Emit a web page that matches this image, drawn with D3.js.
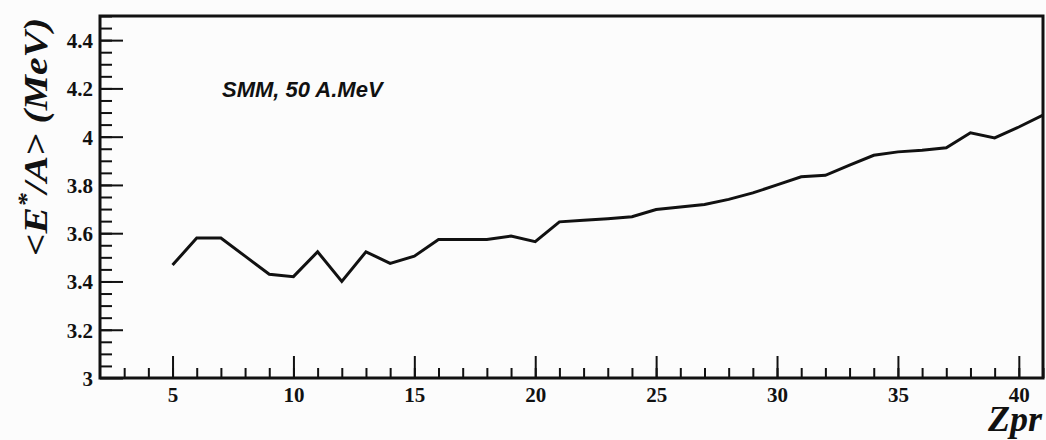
<!DOCTYPE html>
<html>
<head>
<meta charset="utf-8">
<script src="https://cdn.jsdelivr.net/npm/d3@7"></script>
<style>
  html, body { margin: 0; padding: 0; background: #fcfcfc; }
  svg { display: block; }
</style>
</head>
<body>
<svg id="chart" width="1046" height="440"></svg>
<script>
// Mean excitation energy per nucleon vs. projectile-like charge (SMM, 50 A.MeV)
const zpr = [5, 6, 7, 8, 9, 10, 11, 12, 13, 14, 15, 16, 17, 18, 19, 20, 21, 22, 23,
             24, 25, 26, 27, 28, 29, 30, 31, 32, 33, 34, 35, 36, 37, 38, 39, 40, 41];
const eStar = [3.468, 3.58, 3.58, 3.505, 3.43, 3.42, 3.523, 3.40, 3.523, 3.475, 3.505,
               3.574, 3.574, 3.574, 3.588, 3.565, 3.647, 3.654, 3.66, 3.668, 3.698,
               3.709, 3.719, 3.74, 3.767, 3.80, 3.834, 3.84, 3.882, 3.923, 3.937,
               3.944, 3.954, 4.016, 3.995, 4.04, 4.089];

const xMajor = [5, 10, 15, 20, 25, 30, 35, 40];
const xMinor = d3.range(3, 42, 1);
const yMajor = [3, 3.2, 3.4, 3.6, 3.8, 4, 4.2, 4.4];
const yMinor = d3.range(3.05, 4.5, 0.05);

const xDomain = [2, 41];
const yDomain = [3, 4.5];

const svg = d3.select("#chart");
const pLeft = 100, pRight = 1043, pTop = 16, pBottom = 378;

const x = d3.scaleLinear().domain(xDomain).range([pLeft, pRight]);
const y = d3.scaleLinear().domain(yDomain).range([pBottom, pTop]);

const serif = "Liberation Serif";

svg.append("clipPath").attr("id", "plotClip")
  .append("rect").attr("x", pLeft).attr("y", pTop)
  .attr("width", pRight - pLeft).attr("height", pBottom - pTop);

// x axis: minor ticks every unit, major every 5, all pointing inward
const gxMinor = svg.append("g").attr("transform", `translate(0,${pBottom})`)
  .call(d3.axisBottom(x).tickValues(xMinor).tickSize(-10).tickFormat(""));
const gxMajor = svg.append("g").attr("transform", `translate(0,${pBottom})`)
  .call(d3.axisBottom(x).tickValues(xMajor).tickSize(-22).tickPadding(9)
        .tickFormat(d3.format("d")));

// y axis
const gyMinor = svg.append("g").attr("transform", `translate(${pLeft},0)`)
  .call(d3.axisLeft(y).tickValues(yMinor).tickSize(-12).tickFormat(""));
const gyMajor = svg.append("g").attr("transform", `translate(${pLeft},0)`)
  .call(d3.axisLeft(y).tickValues(yMajor).tickSize(-23).tickPadding(7)
        .tickFormat(d => String(+d.toFixed(1))));

[gxMinor, gxMajor, gyMinor, gyMajor].forEach(g => {
  g.attr("font-family", serif).attr("font-size", 21).attr("font-weight", "bold");
  g.select(".domain").remove();
  g.selectAll(".tick line").attr("stroke", "#111").attr("stroke-width", 2);
  g.selectAll(".tick text").attr("fill", "#111");
});
gyMajor.selectAll(".tick text").attr("x", -7).attr("dy", "0.35em");

// frame
svg.append("rect")
  .attr("x", pLeft).attr("y", pTop)
  .attr("width", pRight - pLeft).attr("height", pBottom - pTop)
  .attr("fill", "none").attr("stroke", "#111").attr("stroke-width", 3);

// curve
const line = d3.line().x((d, i) => x(zpr[i])).y(d => y(d));
svg.append("path")
  .datum(eStar)
  .attr("clip-path", "url(#plotClip)")
  .attr("d", line)
  .attr("fill", "none")
  .attr("stroke", "#111")
  .attr("stroke-width", 3)
  .attr("stroke-linejoin", "miter");

// annotation
svg.append("text")
  .attr("x", 222).attr("y", 97)
  .attr("font-family", "Liberation Sans")
  .attr("font-weight", "bold").attr("font-style", "italic")
  .attr("font-size", 22).attr("fill", "#111")
  .text("SMM, 50 A.MeV");

// axis titles
svg.append("text")
  .attr("x", pRight - 1).attr("y", 431)
  .attr("text-anchor", "end")
  .attr("font-family", serif)
  .attr("font-weight", "bold").attr("font-style", "italic")
  .attr("font-size", 36).attr("fill", "#111")
  .text("Zpr");

const yt = svg.append("text")
  .attr("transform", "translate(47,137) rotate(-90) scale(1.2,1)")
  .attr("text-anchor", "middle")
  .attr("font-family", serif)
  .attr("font-weight", "bold").attr("font-style", "italic")
  .attr("font-size", 33).attr("fill", "#111");
yt.append("tspan").text("<E");
yt.append("tspan").attr("dy", -13).attr("font-size", 23).text("*");
yt.append("tspan").attr("dy", 13).text("/A> (MeV)");
</script>
</body>
</html>
